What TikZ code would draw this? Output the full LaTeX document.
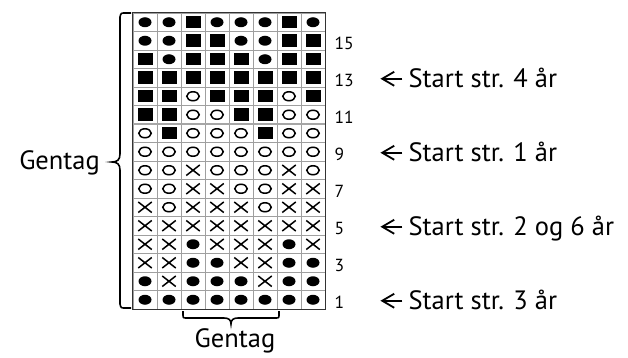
\documentclass[tikz,border=0pt]{standalone}
\usepackage{fontspec}
\setmainfont{PT Sans}
\usepackage{tikz}
\usetikzlibrary{positioning,arrows.meta,shapes.geometric,shapes.misc}

\begin{document}
\begin{tikzpicture}[
			x=1pt, y=-1pt,
			cell/.style={rectangle, draw=gray!75, line width=0.9pt, minimum width=24pt, minimum height=18.5pt, inner sep=0pt},
			symD/.style={ellipse, fill=black, minimum width=13pt, minimum height=10pt, inner sep=0pt},
			symS/.style={rectangle, fill=black, minimum width=15pt, minimum height=12.5pt, inner sep=0pt},
			symO/.style={ellipse, draw=black, line width=1.5pt, minimum width=12.5pt, minimum height=9pt, inner sep=0pt},
			symX/.style={cross out, draw=black, line width=1.5pt, minimum width=12pt, minimum height=9pt, inner sep=0pt},
			rownum/.style={font=\fontsize{17.5}{20}\selectfont, inner sep=0pt, anchor=west},
			startlbl/.style={font=\fontsize{26.5}{30}\selectfont, inner xsep=6pt, inner ysep=0pt, text height=18pt, text depth=0pt},
			gentag/.style={font=\fontsize{26.5}{30}\selectfont, inner sep=0pt},
			brace/.style={draw, line width=1.6pt},
			arrow/.style={-{Straight Barb[length=12pt,width=14pt]}, line width=1.8pt}
		]
		\useasboundingbox (0,0) rectangle (628,358);

		% chart, rows 16 (top) to 1 (bottom)
		\foreach \r/\syms in {
				16/{D,D,S,D,D,D,S,D}, 15/{D,D,S,S,D,D,S,S},
				14/{S,D,S,S,S,D,S,S}, 13/{S,S,S,S,S,S,S,S},
				12/{S,S,O,S,S,S,O,S}, 11/{S,S,O,O,S,S,O,O},
				10/{O,S,O,O,O,S,O,O}, 9/{O,O,O,O,O,O,O,O},
				8/{O,O,X,O,O,O,X,O}, 7/{O,O,X,X,O,O,X,X},
				6/{X,O,X,X,X,O,X,X}, 5/{X,X,X,X,X,X,X,X},
				4/{X,X,D,X,X,X,D,X}, 3/{X,X,D,D,X,X,D,D},
				2/{D,X,D,D,D,X,D,D}, 1/{D,D,D,D,D,D,D,D}} {
			\foreach \s [count=\c] in \syms {
				\node[cell] (c\r-\c) at ({121+24*\c},{22.25+18.5*(16-\r)}) {};
				\node[sym\s] (m\r-\c) at (c\r-\c) {};
			}
		}
		\draw[gray!40!black, line width=0.9pt] (c16-1.north west) rectangle (c1-8.south east);
		\draw[gray!70, line width=2pt] (c11-1.south west) -- (c11-8.south east);

		% row numbers
		\foreach \r in {1,3,...,15}
			\node[rownum, right=9pt of c\r-8, yshift=-3pt] (n\r) {\r};

		% start rows
		\foreach \r/\t in {13/4, 9/1, 5/2 og 6, 1/3} {
			\node[startlbl, right=77pt of c\r-8.east, anchor=west, yshift=-1pt] (s\r) {Start str. \t\ år};
			\coordinate[left=22pt of s\r.west] (a\r);
			\draw[arrow] (s\r) -- (a\r);
		}

		% repeats
		\node[gentag, anchor=east] (gleft) at (100,163) {Gentag};
		\node[gentag] (gbottom) at (235,341) {Gentag};
		\draw[brace] (131,13) -- (125,13) .. controls (121,13) .. (120,17)
			-- (120,154) .. controls (120,160) and (117,162) .. (112,162)
			.. controls (117,162) and (120,164) .. (120,170)
			-- (120,304) .. controls (121,308) .. (125,308) -- (131,308);
		\draw[brace] (183,311) -- (183,314) .. controls (183,318) .. (187,318)
			-- (224,318) .. controls (229,318) and (231,320) .. (231,324)
			.. controls (231,320) and (233,318) .. (238,318)
			-- (275,318) .. controls (279,318) .. (279,314) -- (279,311);
	\end{tikzpicture}
\end{document}
